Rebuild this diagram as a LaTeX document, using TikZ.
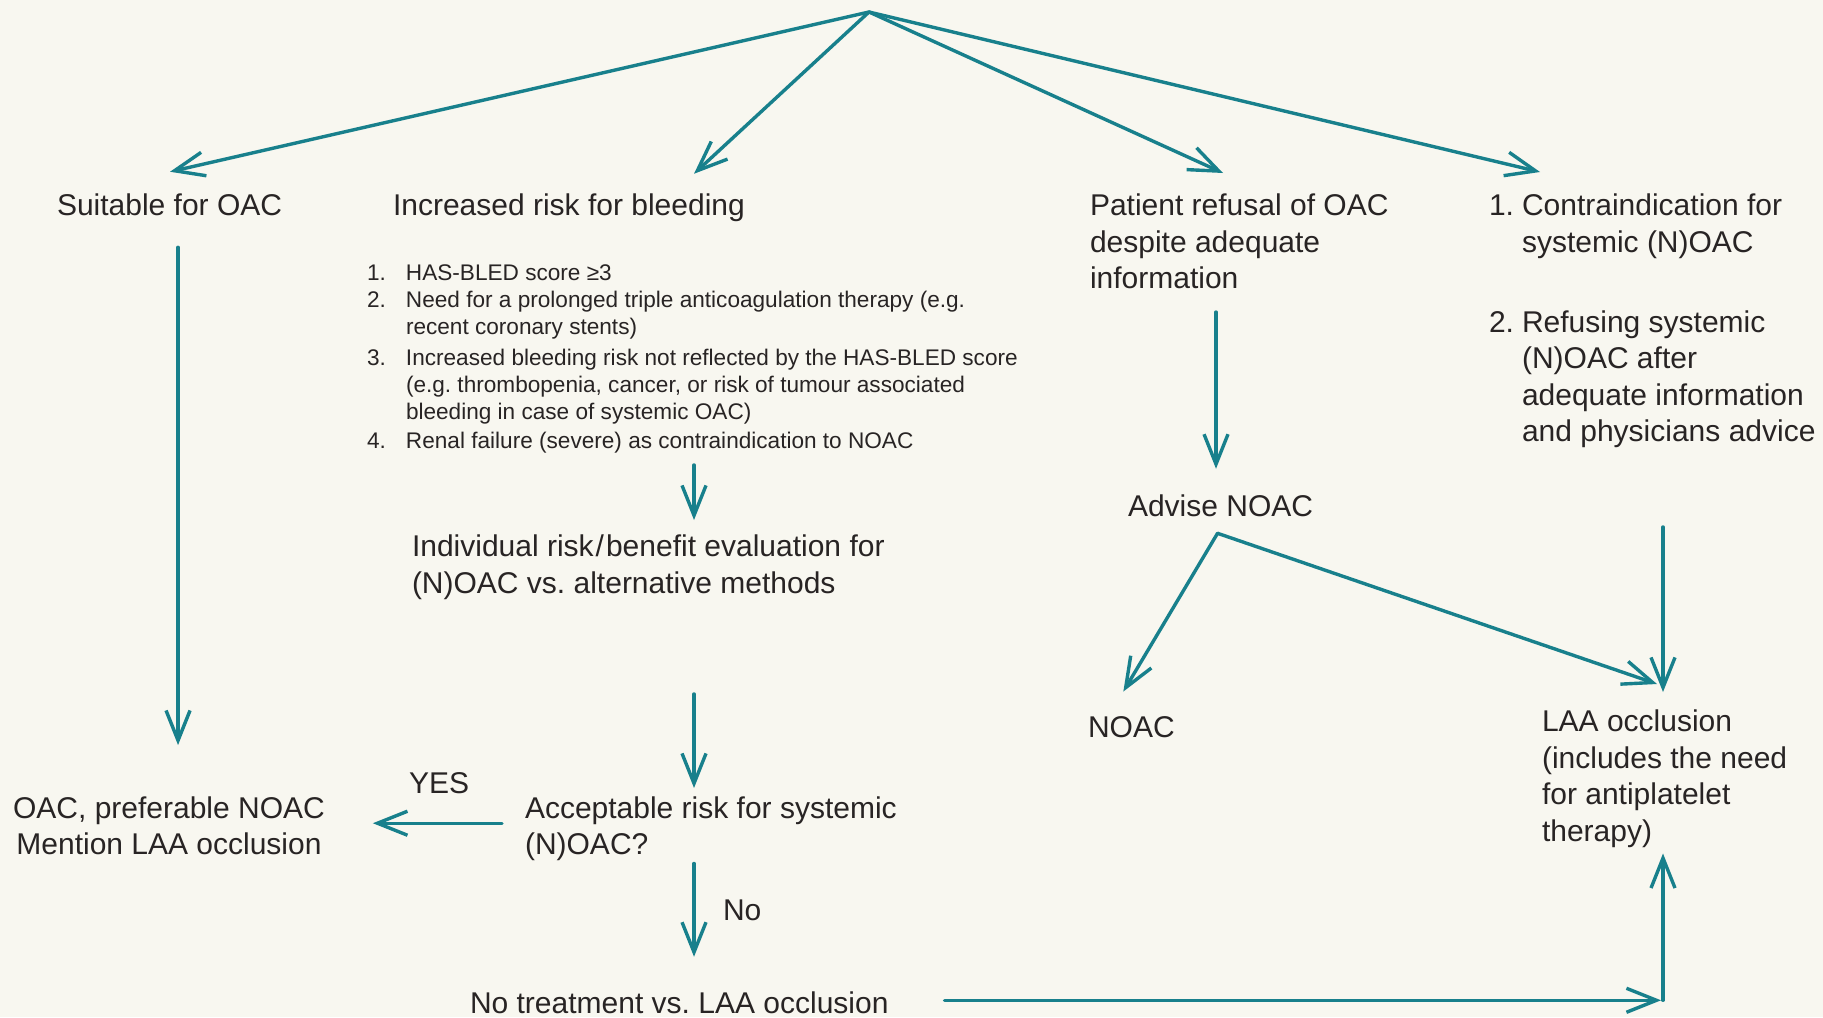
\documentclass[tikz,border=0pt]{standalone}
\usepackage{fontspec}
\setmainfont{Liberation Sans}
\usetikzlibrary{arrows.meta,calc}
\definecolor{teal1}{RGB}{24,128,140}
\definecolor{txt}{RGB}{40,36,36}
\definecolor{bgc}{RGB}{248,247,240}
\tikzset{
  lbl/.style={inner sep=0pt, outer sep=0pt, text=txt, font=\fontsize{15}{18.25}\selectfont\frenchspacing},
  ml/.style={lbl, align=left, anchor=north west},
  arr/.style={draw=teal1, line width=1.7pt, line cap=round, -{Straight Barb[length=15pt,width=12pt]}},
}
\begin{document}
\begin{tikzpicture}[x=0.5pt,y=-0.5pt]
\fill[bgc] (0,0) rectangle (1823,1017);
\useasboundingbox (0,0) rectangle (1823,1017);
\coordinate (top) at (869,12);
\node[lbl,anchor=base west] (suit) at (57,215) {Suitable for OAC};
\node[lbl,anchor=base west] (bleed) at (393,215) {Increased risk for bleeding};
\node[ml] (refuse) at (1090,194) {Patient refusal of OAC\\despite adequate\\information};
\node[ml] (contra) at (1489,194) {\makebox[16.5pt][l]{1.}Contraindication for\\\hspace*{16.5pt}systemic (N)OAC\\[21.75pt]\makebox[16.5pt][l]{2.}Refusing systemic\\\hspace*{16.5pt}(N)OAC after\\\hspace*{16.5pt}adequate information\\\hspace*{16.5pt}and physicians advice};
\node[ml,font=\fontsize{11.3}{13.5}\selectfont\frenchspacing] (list) at (367,264.5) {\makebox[19.5pt][l]{1.}HAS-BLED score ≥3\\
\makebox[19.5pt][l]{2.}Need for a prolonged triple anticoagulation therapy (e.g.\\
\hspace*{19.5pt}recent coronary stents)\\[2pt]
\makebox[19.5pt][l]{3.}Increased bleeding risk not reflected by the HAS-BLED score\\
\hspace*{19.5pt}(e.g. thrombopenia, cancer, or risk of tumour associated\\
\hspace*{19.5pt}bleeding in case of systemic OAC)\\[1pt]
\makebox[19.5pt][l]{4.}Renal failure (severe) as contraindication to NOAC};
\node[ml] (indiv) at (412,535) {Individual risk\kern1pt/\kern1pt benefit evaluation for\\(N)OAC vs. alternative methods};
\node[ml] (accept) at (525,796.5) {Acceptable risk for systemic\\(N)OAC?};
\node[lbl,align=center,anchor=north] (oac) at (169,796.5) {OAC, preferable NOAC\\Mention LAA occlusion};
\node[lbl,anchor=base west] (notreat) at (470,1013) {No treatment vs. LAA occlusion};
\node[lbl,anchor=base west] (advise) at (1128,516) {Advise NOAC};
\node[lbl,anchor=base west] (noac) at (1088,737.5) {NOAC};
\node[ml] (laa) at (1542,710) {LAA occlusion\\(includes the need\\for antiplatelet\\therapy)};
\node[lbl,anchor=base west] (yes) at (409,793) {YES};
\node[lbl,anchor=base west] (no) at (723,920) {No};
% top fan
\draw[arr] (top) -- ($(suit.north)+(0.5,-21.5)$);
\draw[arr] (top) -- ($(bleed.north west)+(301,-19.5)$);
\draw[arr] (top) -- ($(refuse.north west)+(133,-21)$);
\draw[arr] (top) -- ($(contra.north west)+(51,-22)$);
% left column
\draw[arr] ($(suit.south)+(8.5,32)$) -- ($(suit.south |- oac.north)+(8.5,-51.5)$);
% middle column
\draw[arr] ($(list.south west)+(327,12)$) -- ($(list.south west |- indiv.north)+(327,-15)$);
\draw[arr] ($(list.south west |- indiv.south)+(327,94.5)$) -- ($(list.south west |- accept.north)+(327,-8.5)$);
\draw[arr] ($(accept.west)+(-23,-5.5)$) -- ($(oac.east |- accept.west)+(48,-5.5)$);
\draw[arr] ($(list.south west |- accept.south)+(327,2.5)$) -- ($(list.south west |- notreat.north)+(327,-34.5)$);
\coordinate (corner) at ($(laa.west |- notreat.east)+(121,-2)$);
\draw[arr] ($(notreat.east)+(56,-2)$) -- ($(corner)+(-2,0)$);
\draw[arr] (corner) -- ($(laa.south west)+(121,6)$);
% right columns
\draw[arr] ($(refuse.south west)+(126,23)$) -- ($(refuse.south west |- advise.north)+(126,-25.5)$);
\coordinate (ap) at ($(advise.south)+(-3,17)$);
\draw[arr] (ap) -- ($(noac.north)+(-8,-25)$);
\draw[arr] (ap) -- ($(laa.north west)+(115,-26)$);
\draw[arr] ($(contra.south west)+(174,79)$) -- ($(laa.north west)+(121,-18)$);
\end{tikzpicture}
\end{document}
